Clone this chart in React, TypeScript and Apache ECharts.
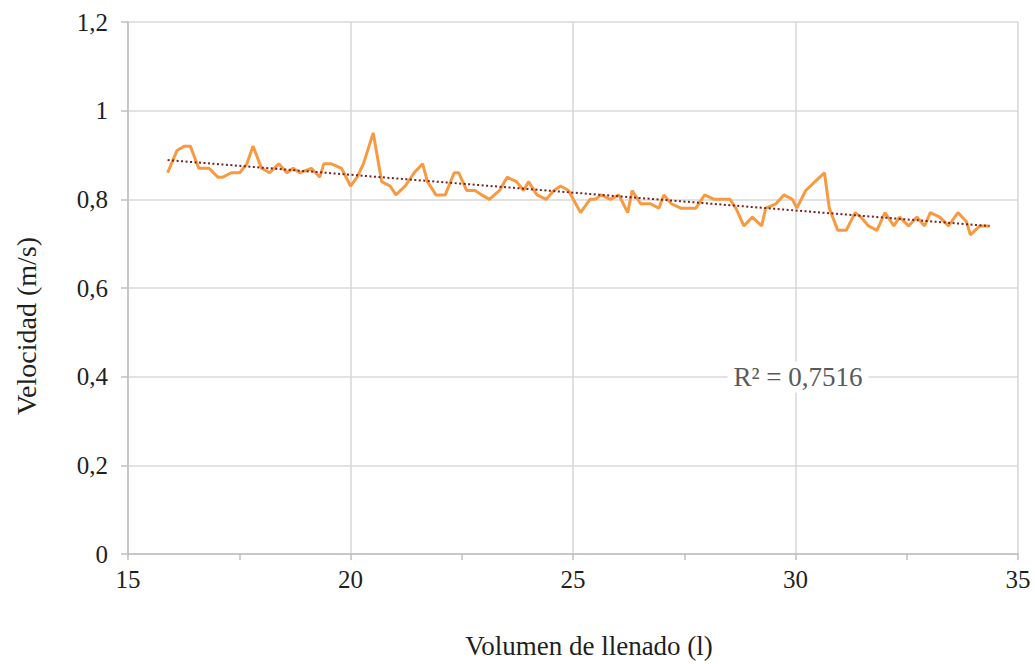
import { useEffect, useRef } from "react";
import * as echarts from "echarts";

const volumen = [
  15.89, 16.1, 16.27, 16.4, 16.59, 16.82, 17.02, 17.13, 17.32, 17.51, 17.67, 17.81, 18.0, 18.18, 18.39, 18.57,
  18.71, 18.86, 19.12, 19.31, 19.4, 19.57, 19.8, 20.0, 20.15, 20.29, 20.51, 20.7, 20.89, 21.02, 21.23, 21.43,
  21.62, 21.73, 21.92, 22.13, 22.33, 22.43, 22.61, 22.8, 22.95, 23.12, 23.35, 23.52, 23.73, 23.89, 24.0, 24.19,
  24.4, 24.57, 24.72, 24.9, 25.17, 25.38, 25.5, 25.63, 25.84, 26.03, 26.23, 26.33, 26.52, 26.74, 26.93, 27.04,
  27.21, 27.42, 27.76, 27.96, 28.17, 28.53, 28.66, 28.84, 29.03, 29.24, 29.33, 29.56, 29.74, 29.93, 30.03, 30.23,
  30.44, 30.65, 30.76, 30.95, 31.14, 31.34, 31.47, 31.64, 31.83, 32.01, 32.21, 32.34, 32.54, 32.73, 32.9, 33.03,
  33.24, 33.44, 33.65, 33.84, 33.93, 34.14, 34.36,
];

const velocidad = [
  0.86, 0.91, 0.92, 0.92, 0.87, 0.87, 0.85, 0.85, 0.86, 0.86, 0.88, 0.92, 0.87, 0.86, 0.88, 0.86,
  0.87, 0.86, 0.87, 0.85, 0.88, 0.88, 0.87, 0.83, 0.85, 0.88, 0.95, 0.84, 0.83, 0.81, 0.83, 0.86,
  0.88, 0.84, 0.81, 0.81, 0.86, 0.86, 0.82, 0.82, 0.81, 0.8, 0.82, 0.85, 0.84, 0.82, 0.84, 0.81,
  0.8, 0.82, 0.83, 0.82, 0.77, 0.8, 0.8, 0.81, 0.8, 0.81, 0.77, 0.82, 0.79, 0.79, 0.78, 0.81,
  0.79, 0.78, 0.78, 0.81, 0.8, 0.8, 0.78, 0.74, 0.76, 0.74, 0.78, 0.79, 0.81, 0.8, 0.78, 0.82,
  0.84, 0.86, 0.78, 0.73, 0.73, 0.77, 0.76, 0.74, 0.73, 0.77, 0.74, 0.76, 0.74, 0.76, 0.74, 0.77,
  0.76, 0.74, 0.77, 0.75, 0.72, 0.74, 0.74,
];

const r2Text = "R² = 0,7516";
const xTitle = "Volumen de llenado (l)";
const yTitle = "Velocidad (m/s)";

function linearFit(xs: number[], ys: number[]) {
  const n = xs.length;
  let sx = 0, sy = 0, sxx = 0, sxy = 0;
  for (let i = 0; i < n; i++) {
    sx += xs[i];
    sy += ys[i];
    sxx += xs[i] * xs[i];
    sxy += xs[i] * ys[i];
  }
  const b = (n * sxy - sx * sy) / (n * sxx - sx * sx);
  const a = (sy - b * sx) / n;
  return { a, b };
}

const FONT = "Times New Roman";
const TXT = "#1f1f1f";

export default function App() {
  const ref = useRef<HTMLDivElement>(null);
  useEffect(() => {
    if (!ref.current) return;
    const chart = echarts.init(ref.current, undefined, { renderer: "svg" });
    const { a, b } = linearFit(volumen, velocidad);
    const x0 = volumen[0];
    const x1 = volumen[volumen.length - 1];
    const trend = [
      [x0, a + b * x0],
      [x1, a + b * x1],
    ];
    const lineData = volumen.map((x, i) => [x, velocidad[i]]);
    chart.setOption({
      animation: false,
      backgroundColor: "#ffffff",
      textStyle: { fontFamily: FONT },
      grid: { left: 128, right: 17, top: 22, bottom: 110, containLabel: false },
      xAxis: {
        type: "value",
        min: 15,
        max: 35,
        interval: 5,
        axisLine: { show: true, lineStyle: { color: "#bfbfbf", width: 1.5 } },
        axisTick: { show: true, inside: false, length: 6, lineStyle: { color: "#bfbfbf", width: 1.5 } },
        minorTick: { show: true, splitNumber: 2, length: 6, lineStyle: { color: "#bfbfbf", width: 1.5 } },
        axisLabel: { fontFamily: FONT, fontSize: 25, color: TXT, margin: 13 },
        splitLine: { show: true, showMaxLine: true, lineStyle: { color: "#d9d9d9", width: 1.6 } },
      },
      yAxis: {
        type: "value",
        min: 0,
        max: 1.2,
        interval: 0.2,
        axisLine: { show: true, lineStyle: { color: "#bfbfbf", width: 1.5 } },
        axisTick: { show: true, inside: false, length: 7, lineStyle: { color: "#bfbfbf", width: 1.5 } },
        axisLabel: {
          fontFamily: FONT,
          fontSize: 25,
          color: TXT,
          margin: 20,
          formatter: (v: number) => String(Number(v.toFixed(1))).replace(".", ","),
        },
        splitLine: { show: true, showMaxLine: true, lineStyle: { color: "#d9d9d9", width: 1.6 } },
      },
      series: [
        {
          type: "line",
          data: lineData,
          symbol: "none",
          lineStyle: { color: "#f79a41", width: 3 },
          z: 2,
        },
        {
          type: "line",
          data: trend,
          symbol: "none",
          lineStyle: { color: "#7b2020", width: 2, type: [2, 2.5], cap: "butt" },
          z: 3,
        },
      ],
      graphic: [
        {
          type: "text",
          x: 798,
          y: 377,
          z: 10,
          style: {
            text: r2Text,
            fontFamily: FONT,
            fontSize: 27,
            fill: "#595959",
            align: "center",
            verticalAlign: "middle",
            backgroundColor: "#ffffff",
            padding: [2, 6],
          },
        },
        {
          type: "text",
          x: 589,
          y: 646,
          style: {
            text: xTitle,
            fontFamily: FONT,
            fontSize: 27,
            fill: TXT,
            align: "center",
            verticalAlign: "middle",
          },
        },
        {
          type: "text",
          x: 26,
          y: 326,
          rotation: Math.PI / 2,
          style: {
            text: yTitle,
            fontFamily: FONT,
            fontSize: 28,
            fill: TXT,
            align: "center",
            verticalAlign: "middle",
          },
        },
      ],
    });
    return () => chart.dispose();
  }, []);
  return <div ref={ref} style={{ position: "absolute", left: 0, top: 0, width: 1035, height: 664 }} />;
}
